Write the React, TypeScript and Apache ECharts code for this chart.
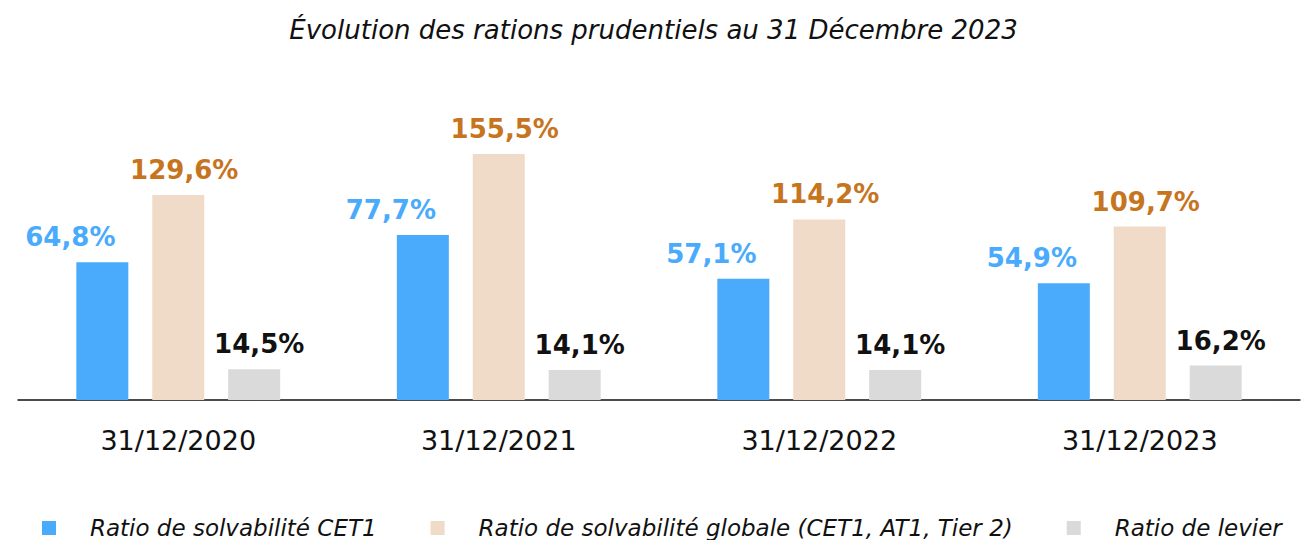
import React, { useEffect, useRef } from "react";
import * as echarts from "echarts";

const title = "Évolution des rations prudentiels au 31 Décembre 2023";
const categories = ["31/12/2020", "31/12/2021", "31/12/2022", "31/12/2023"];
const seriesNames = [
  "Ratio de solvabilité CET1",
  "Ratio de solvabilité globale (CET1, AT1, Tier 2)",
  "Ratio de levier",
];
const cet1 = [64.8, 77.7, 57.1, 54.9];
const globale = [129.6, 155.5, 114.2, 109.7];
const levier = [14.5, 14.1, 14.1, 16.2];

const FONT = "'DejaVu Sans', 'Noto Sans', sans-serif";
const fmt = (p: any) => p.value.toFixed(1).replace(".", ",") + "%";

export default function App() {
  const ref = useRef<HTMLDivElement>(null);
  useEffect(() => {
    document.body.style.margin = "0";
    if (!ref.current) return;
    const chart = echarts.init(ref.current, undefined, { renderer: "svg" });
    const label = (color: string, offset: number[] = [0, 0]) => ({
      show: true,
      position: "top",
      distance: 12,
      offset,
      formatter: fmt,
      color,
      fontSize: 26,
      fontWeight: "bold",
      fontFamily: FONT,
    });
    chart.setOption({
      animation: false,
      title: {
        text: title,
        left: "center",
        top: 12,
        textStyle: { fontFamily: FONT, fontStyle: "italic", fontWeight: "normal", fontSize: 26, color: "#111" },
      },
      legend: {
        top: 511,
        left: 37,
        itemWidth: 14,
        itemHeight: 14,
        itemGap: 54,
        icon: "rect",
        textStyle: {
          fontFamily: FONT,
          fontStyle: "italic",
          fontSize: 23,
          lineHeight: 24,
          color: "#111",
          padding: [0, 0, 0, 29],
        },
      },
      grid: { left: 18, right: 7, top: 60, bottom: 140 },
      xAxis: {
        type: "category",
        data: categories,
        axisLine: { lineStyle: { color: "#111", width: 1.5 } },
        axisTick: { show: false },
        axisLabel: { fontFamily: FONT, fontSize: 27, color: "#111", margin: 27 },
      },
      yAxis: [
        { type: "value", min: 0, max: 160, show: false, splitLine: { show: false } },
        { type: "value", min: 0, max: 215, show: false, splitLine: { show: false } },
      ],
      series: [
        {
          name: seriesNames[0],
          type: "bar",
          yAxisIndex: 0,
          data: cet1,
          barWidth: 52,
          barGap: "46%",
          itemStyle: { color: "#4AABFD" },
          label: label("#4AABFD", [-32, 0]),
        },
        {
          name: seriesNames[1],
          type: "bar",
          yAxisIndex: 1,
          data: globale,
          barWidth: 52,
          barGap: "46%",
          itemStyle: { color: "#EFDBC8" },
          label: label("#C7741F", [6, 0]),
        },
        {
          name: seriesNames[2],
          type: "bar",
          yAxisIndex: 0,
          data: levier,
          barWidth: 52,
          barGap: "46%",
          itemStyle: { color: "#DADADA" },
          label: label("#111", [5, 0]),
        },
      ],
    });
    return () => chart.dispose();
  }, []);
  return <div ref={ref} style={{ width: 1307, height: 540 }} />;
}
